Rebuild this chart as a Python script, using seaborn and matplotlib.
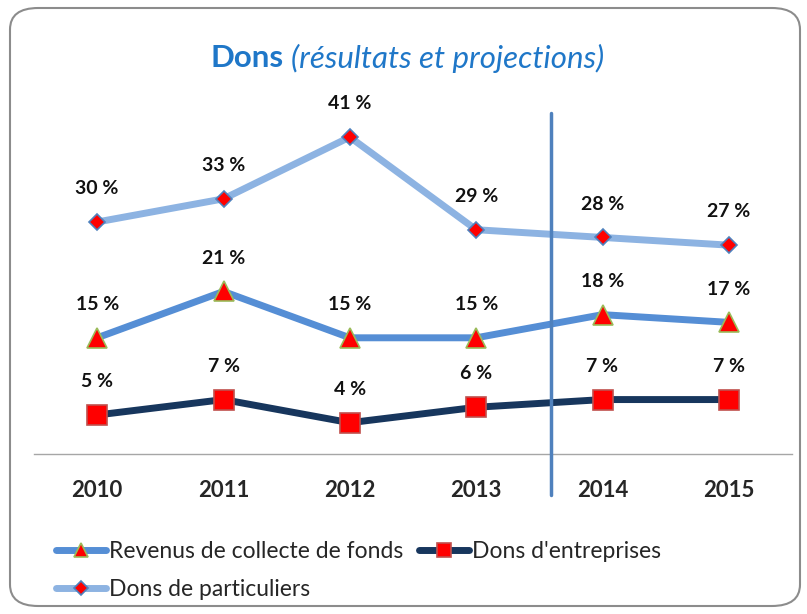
import matplotlib
matplotlib.use("Agg")
import matplotlib.pyplot as plt
from matplotlib.patches import FancyBboxPatch
import pandas as pd
import seaborn as sns

years = ["2010", "2011", "2012", "2013", "2014", "2015"]
revenus = [15, 21, 15, 15, 18, 17]
entreprises = [5, 7, 4, 6, 7, 7]
particuliers = [30, 33, 41, 29, 28, 27]
split_pos = 3.59  # projection separator between 2013 and 2014

sns.set_style("white")
plt.rcParams["font.family"] = ["Lato", "DejaVu Sans"]

fig = plt.figure(figsize=(8.07, 6.14), dpi=100)
ax = fig.add_axes([34 / 807, 160.4 / 614, 758 / 807, 347.4 / 614])

# rounded chart frame
frame = FancyBboxPatch(
    (10 / 807, 8 / 614), 790 / 807, 598 / 614,
    boxstyle="round,pad=0,rounding_size=0.035",
    transform=fig.transFigure, facecolor="none", edgecolor="#8c8c8c",
    linewidth=1.5, zorder=-1,
)
fig.patches.append(frame)

df = pd.DataFrame({"year": years, "revenus": revenus,
                   "entreprises": entreprises, "particuliers": particuliers})

series = [
    ("particuliers", "Dons de particuliers", "#8DB3E2", "D", 8.5, "#4F81BD"),
    ("revenus", "Revenus de collecte de fonds", "#558ED5", "^", 14, "#9BBB59"),
    ("entreprises", "Dons d'entreprises", "#17365D", "s", 14, "#C0504D"),
]
legend_ms = {"D": 7, "^": 10, "s": 10}

for col, label, color, marker, ms, edge in series:
    sns.lineplot(data=df, x="year", y=col, ax=ax, color=color, linewidth=5,
                 marker=marker, markersize=ms, markerfacecolor="#FF0000",
                 markeredgecolor=edge, markeredgewidth=1.2, label=label,
                 sort=False, solid_capstyle="round")
    for i, v in enumerate(df[col]):
        ax.annotate(f"{v} %", (i, v), xytext=(0, 24), textcoords="offset points",
                    ha="center", va="center", fontsize=14, fontweight="bold",
                    color="#111111")

ax.axvline(split_pos, ymin=-0.12, ymax=0.98, color="#4F81BD", linewidth=2.5,
           clip_on=False, zorder=10)

ax.set_xlim(-0.5, 5.5)
ax.set_ylim(0, 45)
ax.set_xlabel("")
ax.set_ylabel("")
ax.set_yticks([])
ax.tick_params(axis="x", length=0, pad=19, labelsize=16)
for t in ax.get_xticklabels():
    t.set_fontweight("bold")
for s in ["top", "left", "right"]:
    ax.spines[s].set_visible(False)
ax.spines["bottom"].set_color("#a6a6a6")
ax.spines["bottom"].set_linewidth(1)

h, l = ax.get_legend_handles_labels()
ax.get_legend().remove()
order = [1, 0, 2]
leg = fig.legend([h[i] for i in order], [l[i] for i in order], ncol=2,
                 loc="upper left", bbox_to_anchor=(56 / 807, 1 - 541 / 614),
                 bbox_transform=fig.transFigure, frameon=False,
                 fontsize=16.5, handlelength=2.2, handletextpad=0.1,
                 columnspacing=0.7, labelspacing=0.75, borderpad=0,
                 borderaxespad=0)
for lh in leg.legend_handles:
    lh.set_markersize(legend_ms[lh.get_marker()])

fig.text(284 / 807, 1 - 58 / 614, "Dons", ha="right", va="center",
         fontsize=22.5, fontweight="bold", color="#1F77C8")
fig.text(291 / 807, 1 - 58 / 614, "(résultats et projections)", ha="left",
         va="center", fontsize=22.5, fontstyle="italic", color="#1F77C8")

fig.savefig("out.png", dpi=100)
